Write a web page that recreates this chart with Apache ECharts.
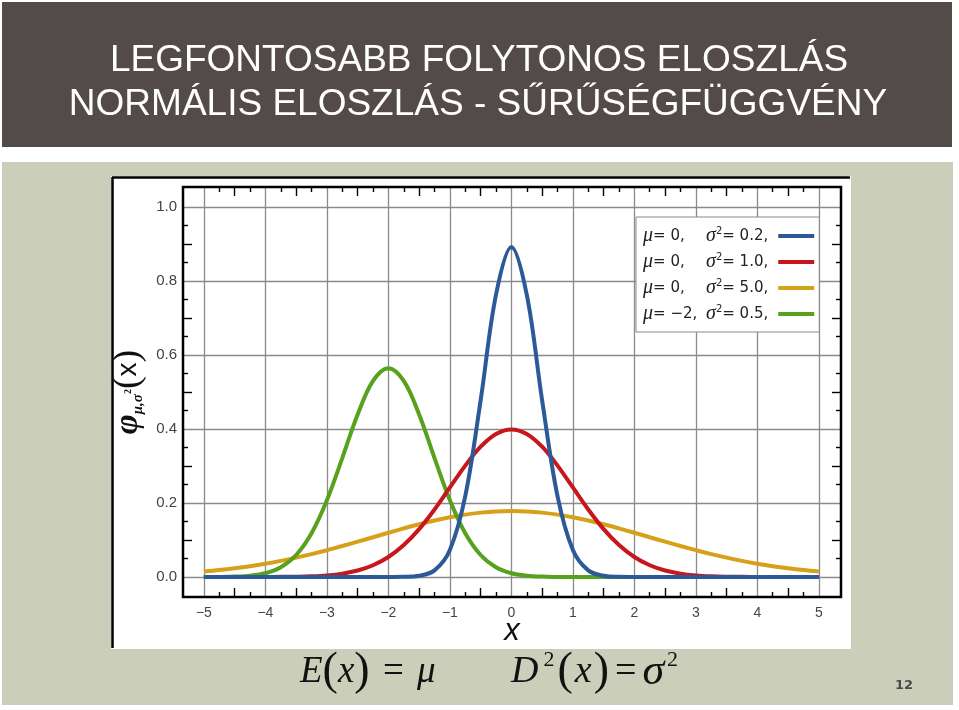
<!DOCTYPE html>
<html><head><meta charset="utf-8">
<script src="https://cdn.jsdelivr.net/npm/echarts@6/dist/echarts.min.js"></script>
<style>html,body{margin:0;padding:0;background:#fff}#c{width:959px;height:710px}</style>
</head><body><div id="c"></div>
<script>
// ---- data ----
const xValues = [-5,-4.75,-4.5,-4.25,-4,-3.75,-3.5,-3.25,-3,-2.75,-2.5,-2.25,-2,-1.75,-1.5,-1.25,-1,-0.75,-0.5,-0.25,0,0.25,0.5,0.75,1,1.25,1.5,1.75,2,2.25,2.5,2.75,3,3.25,3.5,3.75,4,4.25,4.5,4.75,5];
const blueValues = [0,0,0,0,0,0,0,0,0,0,0,0,0,0.0004,0.0032,0.0179,0.0732,0.2186,0.4775,0.763,0.8921,0.763,0.4775,0.2186,0.0732,0.0179,0.0032,0.0004,0,0,0,0,0,0,0,0,0,0,0,0,0];
const redValues = [0,0,0,0,0.0001,0.0004,0.0009,0.002,0.0044,0.0091,0.0175,0.0317,0.054,0.0863,0.1295,0.1826,0.242,0.3011,0.3521,0.3867,0.3989,0.3867,0.3521,0.3011,0.242,0.1826,0.1295,0.0863,0.054,0.0317,0.0175,0.0091,0.0044,0.002,0.0009,0.0004,0.0001,0,0,0,0];
const orangeValues = [0.0146,0.0187,0.0236,0.0293,0.036,0.0437,0.0524,0.062,0.0725,0.0837,0.0955,0.1075,0.1196,0.1313,0.1425,0.1526,0.1614,0.1686,0.174,0.1773,0.1784,0.1773,0.174,0.1686,0.1614,0.1526,0.1425,0.1313,0.1196,0.1075,0.0955,0.0837,0.0725,0.062,0.0524,0.0437,0.036,0.0293,0.0236,0.0187,0.0146];
const greenValues = [0.0001,0.0003,0.0011,0.0036,0.0103,0.0264,0.0595,0.1183,0.2076,0.3215,0.4394,0.53,0.5642,0.53,0.4394,0.3215,0.2076,0.1183,0.0595,0.0264,0.0103,0.0036,0.0011,0.0003,0.0001,0,0,0,0,0,0,0,0,0,0,0,0,0,0,0,0];

const seriesNames = ['μ=0, σ²=0.2', 'μ=0, σ²=1.0', 'μ=0, σ²=5.0', 'μ=−2, σ²=0.5'];
const legendMu = ['0', '0', '0', '−2'];
const legendSigma2 = ['0.2', '1.0', '5.0', '0.5'];

const xMajorTicks = [-5,-4,-3,-2,-1,0,1,2,3,4,5];
const xTickLabels = ['−5','−4','−3','−2','−1','0','1','2','3','4','5'];
const xHalfTicks = [-4.5,-3.5,-2.5,-1.5,-0.5,0.5,1.5,2.5,3.5,4.5];
const xQuarterTicks = [-4.75,-4.25,-3.75,-3.25,-2.75,-2.25,-1.75,-1.25,-0.75,-0.25,0.25,0.75,1.25,1.75,2.25,2.75,3.25,3.75,4.25,4.75];
const yMajorTicks = [0,0.2,0.4,0.6,0.8,1.0];
const yTickLabels = ['0.0','0.2','0.4','0.6','0.8','1.0'];
const yTenthTicks = [0.1,0.3,0.5,0.7,0.9];
const yTwentiethTicks = [0.05,0.15,0.25,0.35,0.45,0.55,0.65,0.75,0.85,0.95];

const titleLines = ['LEGFONTOSABB FOLYTONOS ELOSZLÁS', 'NORMÁLIS ELOSZLÁS - SŰRŰSÉGFÜGGVÉNY'];
const pageNumber = '12';

// ---- chart ----
const chart = echarts.init(document.getElementById('c'), null, {renderer: 'canvas'});
const X_MIN = -5.34, X_MAX = 5.36, Y_MIN = -0.054, Y_MAX = 1.054;
const tickStyle = {color: '#000', width: 1.4};
function lab(ticks, labels, v) {
  for (let i = 0; i < ticks.length; i++) if (Math.abs(ticks[i] - v) < 1e-6) return labels[i];
  return '';
}
function tickAxis(position, ticks, len) {
  const isX = position === 'top' || position === 'bottom';
  return {
    type: 'value', min: isX ? X_MIN : Y_MIN, max: isX ? X_MAX : Y_MAX,
    position: position, gridIndex: 0,
    axisLine: {show: false, onZero: false},
    axisTick: {show: true, inside: true, length: len, customValues: ticks, lineStyle: tickStyle},
    axisLabel: {show: false},
    splitLine: {show: false}
  };
}
const xAxes = [
  {
    type: 'value', min: X_MIN, max: X_MAX, position: 'bottom',
    axisLine: {show: false, onZero: false},
    axisTick: {show: false, customValues: xMajorTicks},
    axisLabel: {customValues: xMajorTicks, margin: 9, color: '#444', fontSize: 14, fontFamily: 'Liberation Sans',
      formatter: v => lab(xMajorTicks, xTickLabels, v)},
    splitLine: {show: true, lineStyle: {color: '#8a8a8a', width: 1.3}},
    name: 'x', nameLocation: 'middle', nameGap: 19, nameMoveOverlap: false,
    nameTextStyle: {fontFamily: 'Liberation Sans', fontStyle: 'italic', fontSize: 31, color: '#111'}
  },
  tickAxis('bottom', xHalfTicks, 9),
  tickAxis('bottom', xQuarterTicks, 5),
  tickAxis('top', xHalfTicks, 9),
  tickAxis('top', xQuarterTicks, 5)
];
const yAxes = [
  {
    type: 'value', min: Y_MIN, max: Y_MAX, position: 'left',
    axisLine: {show: false, onZero: false},
    axisTick: {show: false, customValues: yMajorTicks},
    axisLabel: {customValues: yMajorTicks, margin: 6, color: '#444', fontSize: 15, fontFamily: 'Liberation Sans',
      formatter: v => lab(yMajorTicks, yTickLabels, v)},
    splitLine: {show: true, lineStyle: {color: '#8a8a8a', width: 1.3}},
    name: '{phi|φ}{sub|μ,σ}{sup|2}{par|(}{xx|x}{par|)}',
    nameLocation: 'middle', nameRotate: 90, nameGap: 37, nameMoveOverlap: false,
    nameTextStyle: {
      color: '#111',
      rich: {
        phi: {fontFamily: 'Liberation Serif', fontWeight: 'bold', fontStyle: 'italic', fontSize: 34, color: '#111', lineHeight: 36},
        sub: {fontFamily: 'Liberation Serif', fontWeight: 'bold', fontStyle: 'italic', fontSize: 15, color: '#111', verticalAlign: 'bottom', lineHeight: 36},
        sup: {fontFamily: 'Liberation Serif', fontWeight: 'bold', fontSize: 10, color: '#111', verticalAlign: 'middle', lineHeight: 36},
        par: {fontFamily: 'Liberation Serif', fontSize: 38, color: '#111', lineHeight: 36},
        xx: {fontFamily: 'Liberation Sans', fontSize: 28, color: '#111', lineHeight: 36}
      }
    }
  },
  tickAxis('left', yTenthTicks, 9),
  tickAxis('left', yTwentiethTicks, 5),
  tickAxis('right', yTenthTicks, 9),
  tickAxis('right', yTwentiethTicks, 5)
];

const colors = ['#2c5a98', '#c8161d', '#d6a019', '#57a11c'];
const valueSets = [blueValues, redValues, orangeValues, greenValues];
const zOrder = [6, 5, 3, 4];
const series = seriesNames.map((name, k) => ({
  name: name, type: 'line', xAxisIndex: 0, yAxisIndex: 0,
  data: xValues.map((x, i) => [x, valueSets[k][i]]),
  showSymbol: false, smooth: 0.35, z: zOrder[k],
  lineStyle: {color: colors[k], width: 4}, itemStyle: {color: colors[k]},
  emphasis: {disabled: true}
}));

const serif = 'Liberation Serif';
const legFont = 'DejaVu Sans';
const option = {
  animation: false,
  backgroundColor: '#ffffff',
  grid: {left: 183, top: 187, width: 658, height: 410, show: true, z: 1,
    backgroundColor: 'transparent', borderColor: '#000', borderWidth: 2.5, containLabel: false},
  xAxis: xAxes,
  yAxis: yAxes,
  legend: {
    data: seriesNames, orient: 'vertical', left: 636, top: 217, align: 'right',
    backgroundColor: '#fff', borderColor: '#8a8a8a', borderWidth: 1,
    padding: [9, 5, 8, 7], itemGap: 6, itemWidth: 36, itemHeight: 4, icon: 'rect',
    selectedMode: false,
    formatter: function (name) {
      const k = seriesNames.indexOf(name);
      return '{mu|μ}{n1|= ' + legendMu[k] + ',}{sg|σ}{sup|2}{n|= ' + legendSigma2[k] + ',}';
    },
    textStyle: {
      color: '#222', fontSize: 15, lineHeight: 20, align: 'left',
      rich: {
        mu: {fontFamily: serif, fontStyle: 'italic', fontSize: 20, color: '#222', lineHeight: 20, align: 'left'},
        n1: {fontFamily: legFont, fontSize: 15, color: '#222', width: 53, lineHeight: 20, align: 'left'},
        sg: {fontFamily: serif, fontStyle: 'italic', fontSize: 20, color: '#222', lineHeight: 20, align: 'left'},
        sup: {fontFamily: legFont, fontSize: 10, color: '#222', verticalAlign: 'top', lineHeight: 20, align: 'left'},
        n: {fontFamily: legFont, fontSize: 15, color: '#222', lineHeight: 20, align: 'left', padding: [0, 5, 0, 0]}
      }
    }
  },
  graphic: [
    {type: 'rect', z: -10, shape: {x: 2, y: 2, width: 950, height: 145}, style: {fill: '#534b49'}},
    {type: 'rect', z: -10, shape: {x: 2, y: 162, width: 951, height: 543}, style: {fill: '#cbcfba'}},
    {type: 'rect', z: -9, shape: {x: 111, y: 176, width: 740, height: 473}, style: {fill: '#ffffff'}},
    {type: 'line', z: -8, shape: {x1: 112, y1: 177.5, x2: 850, y2: 177.5}, style: {stroke: '#000', lineWidth: 2.5}},
    {type: 'line', z: -8, shape: {x1: 112.5, y1: 177, x2: 112.5, y2: 648}, style: {stroke: '#000', lineWidth: 2.5}},
    {type: 'text', z: -5, x: 479, y: 61, style: {text: titleLines[0], fill: '#fff', font: '37px "Liberation Sans"', align: 'center', verticalAlign: 'middle'}},
    {type: 'text', z: -5, x: 478, y: 105, style: {text: titleLines[1], fill: '#fff', font: '37px "Liberation Sans"', align: 'center', verticalAlign: 'middle'}},
    {type: 'text', z: -5, x: 300, y: 672, style: {
      text: '{i|E}{p|(}{i|x}{p|)}{o| = }{i|μ}', align: 'left', verticalAlign: 'middle',
      rich: {
        i: {fontFamily: serif, fontStyle: 'italic', fontSize: 37, fill: '#111', lineHeight: 46},
        p: {fontFamily: serif, fontSize: 46, fill: '#111', lineHeight: 46},
        o: {fontFamily: serif, fontSize: 37, fill: '#111', lineHeight: 46, padding: [0, 4, 0, 4]}
      }}},
    {type: 'text', z: -5, x: 509, y: 672, style: {
      text: '{i|D}{s|2}{p|(}{i|x}{p|)}{o|=}{g|σ}{s|2}', align: 'left', verticalAlign: 'middle',
      rich: {
        i: {fontFamily: serif, fontStyle: 'italic', fontSize: 38, fill: '#111', lineHeight: 46, padding: [0, 2, 0, 2]},
        g: {fontFamily: serif, fontStyle: 'italic', fontSize: 44, fill: '#111', lineHeight: 46},
        s: {fontFamily: serif, fontSize: 22, fill: '#111', verticalAlign: 'top', lineHeight: 46, padding: [0, 3, 0, 3]},
        p: {fontFamily: serif, fontSize: 46, fill: '#111', lineHeight: 46},
        o: {fontFamily: serif, fontSize: 38, fill: '#111', lineHeight: 46, padding: [0, 6, 0, 6]}
      }}},
    {type: 'text', z: -5, x: 904, y: 686, style: {text: pageNumber, fill: '#4a4a4a', font: 'bold 13px "DejaVu Sans"', align: 'center', verticalAlign: 'middle'}}
  ],
  series: series
};
chart.setOption(option);
</script>
</body></html>
